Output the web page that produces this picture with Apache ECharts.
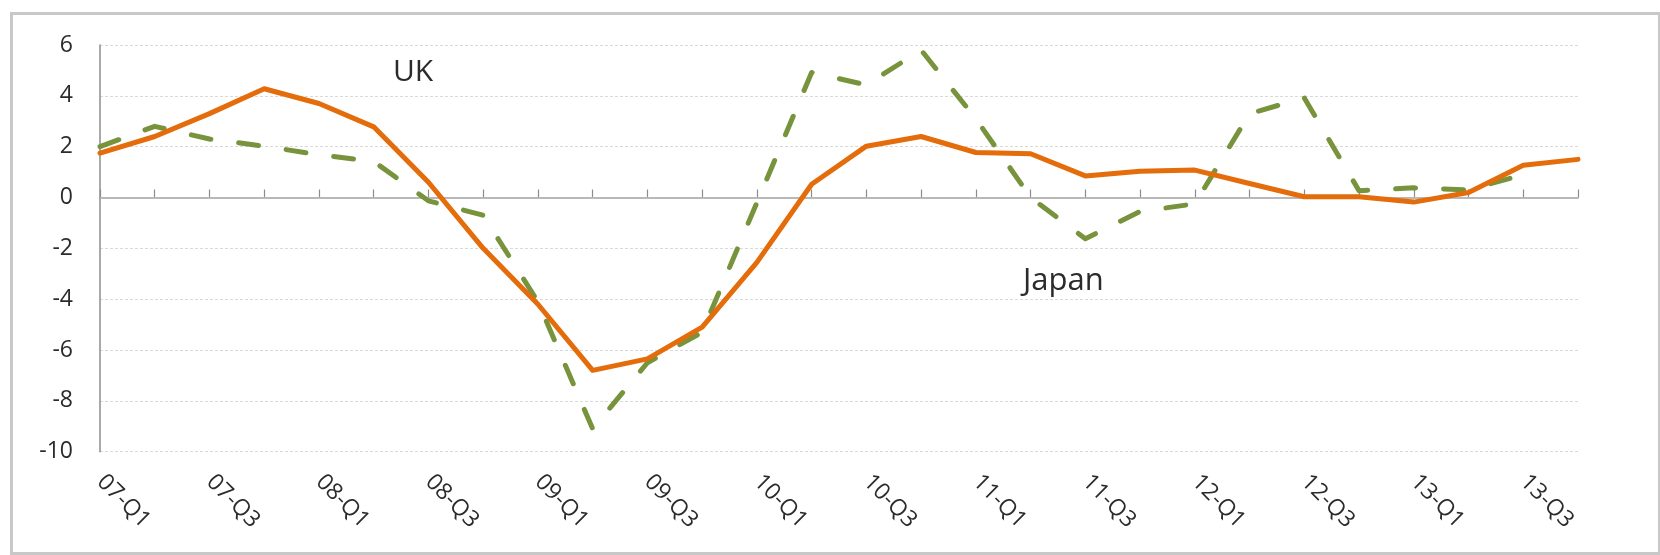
<!DOCTYPE html>
<html>
<head>
<meta charset="utf-8">
<script src="https://cdn.jsdelivr.net/npm/echarts@6/dist/echarts.min.js"></script>
<style>
  html, body { margin: 0; padding: 0; background: #ffffff; }
  #chart { width: 1660px; height: 555px; }
</style>
</head>
<body>
<div id="chart"></div>
<script>
// Quarterly growth, 2007 Q1 to 2013 Q4
const quarters = [
  '07-Q1','07-Q2','07-Q3','07-Q4','08-Q1','08-Q2','08-Q3','08-Q4',
  '09-Q1','09-Q2','09-Q3','09-Q4','10-Q1','10-Q2','10-Q3','10-Q4',
  '11-Q1','11-Q2','11-Q3','11-Q4','12-Q1','12-Q2','12-Q3','12-Q4',
  '13-Q1','13-Q2','13-Q3','13-Q4'
];
const ukValues = [
  1.75, 2.4, 3.3, 4.28, 3.7, 2.78, 0.6, -2.0,
  -4.2, -6.8, -6.35, -5.1, -2.55, 0.52, 2.02, 2.4,
  1.77, 1.72, 0.85, 1.03, 1.08, 0.55, 0.03, 0.03,
  -0.18, 0.2, 1.27, 1.5
];
const japanValues = [
  2.0, 2.8, 2.3, 2.02, 1.68, 1.42, -0.13, -0.7,
  -4.1, -9.1, -6.5, -5.3, -0.2, 4.92, 4.43, 5.8,
  3.1, 0.0, -1.62, -0.55, -0.25, 3.3, 3.92, 0.27,
  0.38, 0.3, 0.9, null
];
const yTicks = { min: -10, max: 6, step: 2 };

const FONT = '"Open Sans", Lato, sans-serif';
const TEXT = '#2b2b2b';
const AXIS = '#8c8c8c';

const chart = echarts.init(document.getElementById('chart'), null, { renderer: 'canvas' });

chart.setOption({
  backgroundColor: '#ffffff',
  animation: false,
  grid: { left: 100, right: 82, top: 45, bottom: 103.3, containLabel: false },
  xAxis: {
    type: 'category',
    data: quarters,
    boundaryGap: false,
    axisLine: { show: true, lineStyle: { color: AXIS, width: 1.5 } },
    axisTick: { show: true, inside: true, length: 8, interval: 0, lineStyle: { color: AXIS, width: 1.2 } },
    axisLabel: {
      interval: 1,
      rotate: -45,
      margin: 26,
      padding: [0, 0, 0, 1],
      color: TEXT,
      fontFamily: FONT,
      fontSize: 23
    },
    splitLine: { show: false }
  },
  yAxis: {
    type: 'value',
    min: yTicks.min,
    max: yTicks.max,
    interval: yTicks.step,
    axisLine: { show: true, lineStyle: { color: AXIS, width: 1.5 } },
    axisTick: { show: false },
    axisLabel: { margin: 27, color: TEXT, fontFamily: FONT, fontSize: 23 },
    splitLine: { show: true, lineStyle: { color: '#d9d9d9', width: 1, type: [3, 2] } }
  },
  graphic: [
    {
      type: 'rect',
      left: 9, top: 11,
      shape: { width: 1648, height: 540 },
      style: { fill: 'none', stroke: '#c8c8c8', lineWidth: 3 },
      silent: true
    },
    {
      type: 'text',
      left: 393, top: 57,
      style: { text: 'UK', fill: TEXT, font: '30px ' + FONT }
    },
    {
      type: 'text',
      left: 1023, top: 266,
      style: { text: 'Japan', fill: TEXT, font: '31px ' + FONT }
    }
  ],
  series: [
    {
      name: 'Japan',
      type: 'line',
      data: japanValues,
      showSymbol: false,
      symbol: 'none',
      connectNulls: false,
      lineStyle: { color: '#77933c', width: 5, type: [20, 28], cap: 'round', join: 'round' },
      z: 2,
      markLine: {
        silent: true,
        symbol: 'none',
        label: { show: false },
        lineStyle: { color: '#bfbfbf', width: 1.5, type: 'solid' },
        data: [{ yAxis: 0 }],
        z: 1
      }
    },
    {
      name: 'UK',
      type: 'line',
      data: ukValues,
      showSymbol: false,
      symbol: 'none',
      lineStyle: { color: '#e46c0a', width: 5, cap: 'round', join: 'round' },
      z: 3
    }
  ]
});
</script>
</body>
</html>
